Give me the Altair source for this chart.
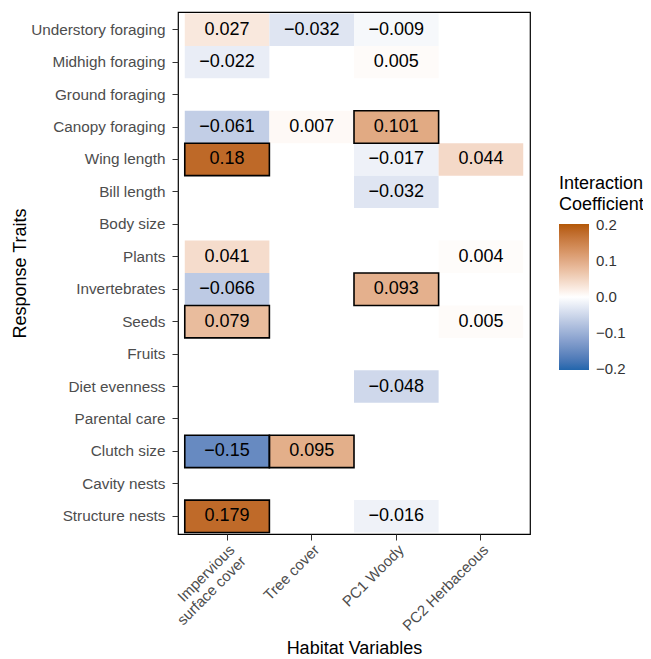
import altair as alt
import pandas as pd

traits = ["Understory foraging", "Midhigh foraging", "Ground foraging", "Canopy foraging",
          "Wing length", "Bill length", "Body size", "Plants", "Invertebrates", "Seeds",
          "Fruits", "Diet evenness", "Parental care", "Clutch size", "Cavity nests",
          "Structure nests"]
habitats = ["Impervious surface cover", "Tree cover", "PC1 Woody", "PC2 Herbaceous"]

cell_trait = ["Understory foraging", "Understory foraging", "Understory foraging",
              "Midhigh foraging", "Midhigh foraging",
              "Canopy foraging", "Canopy foraging", "Canopy foraging",
              "Wing length", "Wing length", "Wing length",
              "Bill length",
              "Plants", "Plants",
              "Invertebrates", "Invertebrates",
              "Seeds", "Seeds",
              "Diet evenness",
              "Clutch size", "Clutch size",
              "Structure nests", "Structure nests"]
cell_habitat = ["Impervious surface cover", "Tree cover", "PC1 Woody",
                "Impervious surface cover", "PC1 Woody",
                "Impervious surface cover", "Tree cover", "PC1 Woody",
                "Impervious surface cover", "PC1 Woody", "PC2 Herbaceous",
                "PC1 Woody",
                "Impervious surface cover", "PC2 Herbaceous",
                "Impervious surface cover", "PC1 Woody",
                "Impervious surface cover", "PC2 Herbaceous",
                "PC1 Woody",
                "Impervious surface cover", "Tree cover",
                "Impervious surface cover", "PC1 Woody"]
cell_value = [0.027, -0.032, -0.009,
              -0.022, 0.005,
              -0.061, 0.007, 0.101,
              0.18, -0.017, 0.044,
              -0.032,
              0.041, 0.004,
              -0.066, 0.093,
              0.079, 0.005,
              -0.048,
              -0.15, 0.095,
              0.179, -0.016]
cell_sig = [False, False, False,
            False, False,
            False, False, True,
            True, False, False,
            False,
            False, False,
            False, True,
            True, False,
            False,
            True, True,
            True, False]

legend_values = [-0.2, -0.1, 0.0, 0.1, 0.2]

df = pd.DataFrame({"trait": cell_trait, "habitat": cell_habitat,
                   "v": cell_value, "sig": cell_sig})

FONT = "Liberation Sans"

x_enc = alt.X("habitat:N", sort=habitats,
              scale=alt.Scale(domain=habitats, paddingInner=0, paddingOuter=0.08),
              axis=alt.Axis(title="Habitat Variables", labelAngle=-45, labelAlign="right",
                            labelBaseline="top", labelFontSize=15, labelColor="#4d4d4d",
                            labelFont=FONT, labelPadding=2, labelLineHeight=16,
                            labelExpr="datum.label == 'Impervious surface cover' ? ['Impervious', 'surface cover'] : datum.label",
                            titleFontSize=18, titleFont=FONT, titleFontWeight="normal",
                            titleColor="black", titlePadding=6,
                            tickSize=6, tickColor="#333333", domain=False, grid=False))
y_enc = alt.Y("trait:N", sort=traits,
              scale=alt.Scale(domain=traits, paddingInner=0, paddingOuter=0.045),
              axis=alt.Axis(title="Response Traits", labelFontSize=15.3, labelColor="#4d4d4d",
                            labelFont=FONT, labelPadding=7,
                            titleFontSize=18, titleFont=FONT, titleFontWeight="normal",
                            titleColor="black", titlePadding=1,
                            tickSize=6, tickColor="#333333", domain=False, grid=False))

base = alt.Chart(df).encode(x=x_enc, y=y_enc)

tiles = base.mark_rect().encode(
    color=alt.Color("v:Q",
                    scale=alt.Scale(domain=[-0.2015, 0, 0.2015], nice=False,
                                    range=["#2166ac", "#ffffff", "#b35806"],
                                    interpolate="lab"),
                    legend=alt.Legend(orient="none", legendX=381, legendY=163,
                                      title=["Interaction", "Coefficient"],
                                      titleFontSize=18, titleFont=FONT,
                                      titleFontWeight="normal", titleColor="black",
                                      titleLineHeight=21, titlePadding=10,
                                      gradientLength=146, gradientThickness=30,
                                      gradientStrokeWidth=0,
                                      labelFontSize=15, labelFont=FONT, labelColor="#333333",
                                      labelOffset=7, labelOverlap=False,
                                      values=legend_values,
                                      format=".1f",
                                      direction="vertical"))
)

borders = base.transform_filter("datum.sig").mark_rect(
    fillOpacity=0, stroke="black", strokeWidth=1.6)

texts = base.transform_calculate(
    lab="replace(format(datum.v, '.3~f'), '-', '\u2212')"
).mark_text(fontSize=18, font=FONT, color="black").encode(text="lab:N")

chart = alt.layer(tiles, borders, texts).properties(
    width=352, height=522,
    autosize=alt.AutoSizeParams(type="none"),
    padding={"left": 170, "top": 4, "right": 113, "bottom": 125},
).configure_view(stroke="black", strokeWidth=1.2)

chart.save("out.html", embed_options={"renderer": "svg", "actions": False})
